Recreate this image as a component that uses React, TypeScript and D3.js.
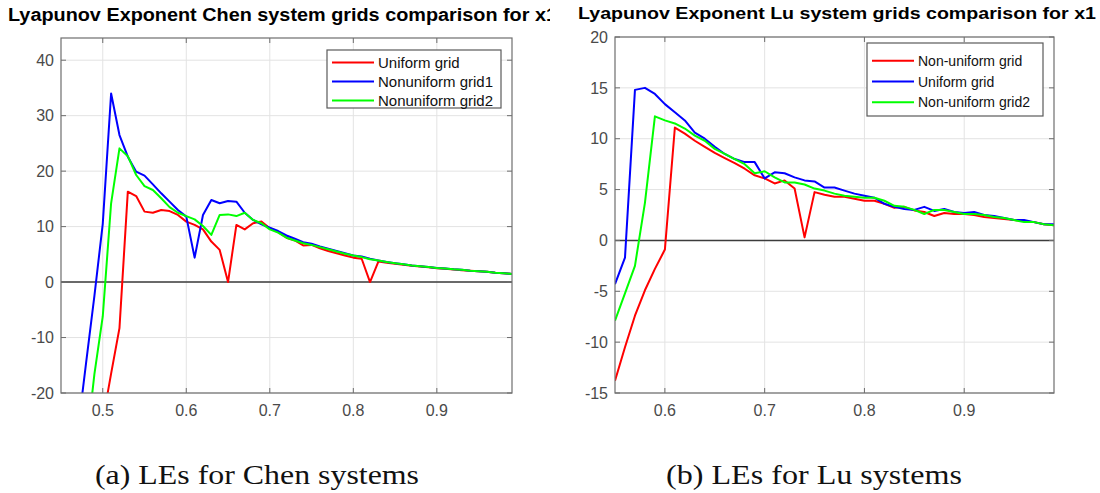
import * as d3 from "d3";

// sample spacing of the LE runs along the x axis
const STEP = 0.01;

// ---- Chen system (left panel) ----
const chenXTicks = [0.5, 0.6, 0.7, 0.8, 0.9];
const chenYTicks = [-20, -10, 0, 10, 20, 30, 40];
const chenXDomain: [number, number] = [0.45, 0.99];
const chenYDomain: [number, number] = [-20, 44];

const chenUniformStart = 0.5;
const chenUniform = [
  -25, -16.5, -8.3, 16.3, 15.5, 12.7, 12.5, 13.0, 12.8, 12.1, 10.9, 10.3, 9.5, 7.3, 5.8, 0.0, 10.3, 9.5,
  10.6, 10.9, 9.7, 9.0, 8.0, 7.5, 6.6, 6.7, 6.1, 5.6, 5.2, 4.8, 4.4, 4.2, 0.0, 3.7, 3.5, 3.3, 3.1, 2.95,
  2.8, 2.65, 2.5, 2.4, 2.25, 2.15, 2.05, 1.95, 1.85, 1.7, 1.6, 1.45,
];
const chenNonuniform1Start = 0.47;
const chenNonuniform1 = [
  -27, -14.6, -2.5, 10.5, 34.0, 26.5, 22.6, 19.9, 19.2, 17.6, 16.0, 14.5, 13.0, 11.8, 4.4, 12.1, 14.8,
  14.2, 14.6, 14.5, 12.5, 11.2, 10.4, 9.8, 9.2, 8.4, 7.8, 7.2, 6.9, 6.4, 6.0, 5.6, 5.2, 4.8, 4.6, 4.2,
  3.9, 3.6, 3.4, 3.2, 3.0, 2.85, 2.7, 2.55, 2.45, 2.3, 2.2, 2.05, 1.95, 1.85, 1.7, 1.6, 1.45,
];
const chenNonuniform2Start = 0.48;
const chenNonuniform2 = [
  -30, -16.6, -6.2, 14.2, 24.1, 22.7, 19.3, 17.3, 16.6, 15.1, 13.5, 12.5, 11.9, 11.3, 10.1, 8.5, 12.1,
  12.2, 11.9, 12.5, 11.2, 10.6, 9.5, 8.9, 8.0, 7.5, 7.0, 6.7, 6.3, 5.9, 5.5, 5.1, 4.8, 4.5, 4.1, 3.9,
  3.6, 3.4, 3.2, 3.0, 2.85, 2.7, 2.55, 2.45, 2.3, 2.2, 2.05, 1.95, 1.85, 1.7, 1.6, 1.45,
];

// ---- Lu system (right panel) ----
const luXTicks = [0.6, 0.7, 0.8, 0.9];
const luYTicks = [-15, -10, -5, 0, 5, 10, 15, 20];
const luXDomain: [number, number] = [0.55, 0.99];
const luYDomain: [number, number] = [-15, 20];

const luStart = 0.55;
const luNonuniform = [
  -13.8, -10.5, -7.4, -4.9, -2.8, -0.9, 11.1, 10.5, 9.8, 9.2, 8.6, 8.1, 7.6, 7.05, 6.4, 6.1, 5.6, 5.9,
  5.1, 0.3, 4.75, 4.5, 4.3, 4.3, 4.1, 3.9, 3.9, 3.6, 3.2, 3.3, 2.95, 2.8, 2.4, 2.7, 2.6, 2.6, 2.5, 2.3,
  2.2, 2.1, 2.0, 1.9, 1.8, 1.6, 1.5,
];
const luUniform = [
  -4.3, -1.7, 14.8, 15.0, 14.4, 13.4, 12.6, 11.8, 10.6, 10.0, 9.2, 8.5, 8.0, 7.7, 7.7, 6.1, 6.7, 6.6,
  6.2, 5.9, 5.8, 5.2, 5.2, 4.9, 4.6, 4.4, 4.2, 3.6, 3.3, 3.1, 3.0, 3.3, 2.9, 3.1, 2.8, 2.7, 2.8, 2.5,
  2.4, 2.2, 2.0, 2.0, 1.8, 1.6, 1.6,
];
const luNonuniform2 = [
  -7.9, -5.2, -2.5, 3.7, 12.2, 11.8, 11.5, 11.0, 10.3, 9.8, 9.0, 8.5, 8.0, 7.5, 6.6, 6.8, 6.2, 5.7,
  5.7, 5.5, 5.1, 4.9, 4.6, 4.4, 4.3, 4.2, 4.2, 3.9, 3.4, 3.3, 3.0, 2.6, 3.0, 3.0, 2.8, 2.6, 2.6, 2.5,
  2.3, 2.2, 2.0, 1.8, 1.8, 1.6, 1.5,
];

type Pt = [number, number];
function toPoints(start: number, values: number[]): Pt[] {
  return values.map((v, i) => [Math.round((start + i * STEP) * 100) / 100, v]);
}

interface Series {
  name: string;
  color: string;
  points: Pt[];
}

interface PanelProps {
  id: string;
  left: number;
  right: number;
  top: number;
  bottom: number;
  xDomain: [number, number];
  yDomain: [number, number];
  xTicks: number[];
  yTicks: number[];
  series: Series[];
  title: string;
  titleX: number;
  titleY: number;
  titleSize: number;
  titleLength: number;
  legend: { x: number; y: number; w: number; h: number; row0: number; gap: number; fs: number };
  caption: string;
  captionX: number;
  captionLength: number;
  clipRight?: number;
}

const AXIS = "#6e6e6e";
const LABEL = "#4a4a4a";
const SANS = "'Liberation Sans', Arial, sans-serif";

function Panel(p: PanelProps) {
  const x = d3.scaleLinear().domain(p.xDomain).range([p.left, p.right]);
  const y = d3.scaleLinear().domain(p.yDomain).range([p.bottom, p.top]);
  const line = d3
    .line<Pt>()
    .x((d) => x(d[0]))
    .y((d) => y(d[1]));
  const tick = 5;

  return (
    <g>
      <defs>
        <clipPath id={`plot-${p.id}`}>
          <rect x={p.left} y={p.top} width={p.right - p.left} height={p.bottom - p.top} />
        </clipPath>
        {p.clipRight !== undefined && (
          <clipPath id={`title-${p.id}`}>
            <rect x={0} y={0} width={p.clipRight} height={40} />
          </clipPath>
        )}
      </defs>

      <text
        x={p.titleX}
        y={p.titleY}
        fontFamily={SANS}
        fontWeight="bold"
        fontSize={p.titleSize}
        textLength={p.titleLength}
        lengthAdjust="spacingAndGlyphs"
        fill="#000"
        clipPath={p.clipRight !== undefined ? `url(#title-${p.id})` : undefined}
      >
        {p.title}
      </text>

      <rect x={p.left} y={p.top} width={p.right - p.left} height={p.bottom - p.top} fill="#fff" />

      {/* grid */}
      {p.xTicks.map((t) => (
        <line key={`gx${t}`} x1={x(t)} x2={x(t)} y1={p.top} y2={p.bottom} stroke="#e3e3e3" strokeWidth={1} />
      ))}
      {p.yTicks.map((t) => (
        <line key={`gy${t}`} x1={p.left} x2={p.right} y1={y(t)} y2={y(t)} stroke="#e3e3e3" strokeWidth={1} />
      ))}

      {/* zero line */}
      <line x1={p.left} x2={p.right} y1={y(0)} y2={y(0)} stroke="#3c3c3c" strokeWidth={1.4} />

      <g clipPath={`url(#plot-${p.id})`}>
        {p.series.map((s) => (
          <path
            key={s.name}
            d={line(s.points) ?? ""}
            fill="none"
            stroke={s.color}
            strokeWidth={2}
            strokeLinejoin="round"
          />
        ))}
      </g>

      {/* box + ticks */}
      <rect
        x={p.left}
        y={p.top}
        width={p.right - p.left}
        height={p.bottom - p.top}
        fill="none"
        stroke={AXIS}
        strokeWidth={1.2}
      />
      {p.xTicks.map((t) => (
        <g key={`tx${t}`}>
          <line x1={x(t)} x2={x(t)} y1={p.bottom} y2={p.bottom - tick} stroke={AXIS} />
          <line x1={x(t)} x2={x(t)} y1={p.top} y2={p.top + tick} stroke={AXIS} />
          <text
            x={x(t)}
            y={p.bottom + 23}
            textAnchor="middle"
            fontFamily={SANS}
            fontSize={16}
            fill={LABEL}
          >
            {String(t)}
          </text>
        </g>
      ))}
      {p.yTicks.map((t) => (
        <g key={`ty${t}`}>
          <line x1={p.left} x2={p.left + tick} y1={y(t)} y2={y(t)} stroke={AXIS} />
          <line x1={p.right} x2={p.right - tick} y1={y(t)} y2={y(t)} stroke={AXIS} />
          <text
            x={p.left - 7}
            y={y(t)}
            dy="0.36em"
            textAnchor="end"
            fontFamily={SANS}
            fontSize={16}
            fill={LABEL}
          >
            {String(t)}
          </text>
        </g>
      ))}

      {/* legend */}
      <rect
        x={p.legend.x}
        y={p.legend.y}
        width={p.legend.w}
        height={p.legend.h}
        fill="#fff"
        stroke="#5a5a5a"
        strokeWidth={1.2}
      />
      {p.series.map((s, i) => {
        const ly = p.legend.row0 + i * p.legend.gap;
        return (
          <g key={`lg${s.name}`}>
            <line
              x1={p.legend.x + 5}
              x2={p.legend.x + 47}
              y1={ly}
              y2={ly}
              stroke={s.color}
              strokeWidth={2}
            />
            <text
              x={p.legend.x + 51}
              y={ly}
              dy="0.36em"
              fontFamily={SANS}
              fontSize={p.legend.fs}
              fill="#111"
            >
              {s.name}
            </text>
          </g>
        );
      })}

      <text
        x={p.captionX}
        y={484}
        fontFamily="'Liberation Serif', 'DejaVu Serif', serif"
        fontSize={28}
        textLength={p.captionLength}
        lengthAdjust="spacingAndGlyphs"
        fill="#111"
      >
        {p.caption}
      </text>
    </g>
  );
}

export default function App() {
  const chenSeries: Series[] = [
    { name: "Uniform grid", color: "#ff0000", points: toPoints(chenUniformStart, chenUniform) },
    { name: "Nonuniform grid1", color: "#0000ff", points: toPoints(chenNonuniform1Start, chenNonuniform1) },
    { name: "Nonuniform grid2", color: "#00ff00", points: toPoints(chenNonuniform2Start, chenNonuniform2) },
  ];
  const luSeries: Series[] = [
    { name: "Non-uniform grid", color: "#ff0000", points: toPoints(luStart, luNonuniform) },
    { name: "Uniform grid", color: "#0000ff", points: toPoints(luStart, luUniform) },
    { name: "Non-uniform grid2", color: "#00ff00", points: toPoints(luStart, luNonuniform2) },
  ];

  return (
    <svg
      width={1100}
      height={493}
      viewBox="0 0 1100 493"
      style={{ position: "absolute", left: 0, top: 0, background: "#fff" }}
    >
      <rect width={1100} height={493} fill="#fff" />
      <Panel
        id="chen"
        left={61}
        right={512}
        top={38}
        bottom={393}
        xDomain={chenXDomain}
        yDomain={chenYDomain}
        xTicks={chenXTicks}
        yTicks={chenYTicks}
        series={chenSeries}
        title="Lyapunov Exponent Chen system grids comparison for x1"
        titleX={8}
        titleY={21}
        titleSize={18}
        titleLength={549}
        clipRight={550}
        legend={{ x: 327, y: 50, w: 174, h: 58, row0: 62.5, gap: 19, fs: 15 }}
        caption="(a) LEs for Chen systems"
        captionX={95}
        captionLength={324}
      />
      <Panel
        id="lu"
        left={615}
        right={1054}
        top={37}
        bottom={393}
        xDomain={luXDomain}
        yDomain={luYDomain}
        xTicks={luXTicks}
        yTicks={luYTicks}
        series={luSeries}
        title="Lyapunov Exponent Lu system grids comparison for x1"
        titleX={578}
        titleY={18.5}
        titleSize={17}
        titleLength={518}
        legend={{ x: 867, y: 43, w: 176, h: 73, row0: 60.7, gap: 20.8, fs: 14 }}
        caption="(b) LEs for Lu systems"
        captionX={666}
        captionLength={296}
      />
    </svg>
  );
}
